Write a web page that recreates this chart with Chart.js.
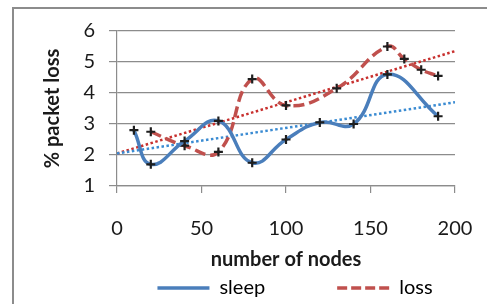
<!DOCTYPE html>
<html>
<head>
<meta charset="utf-8">
<script src="https://cdn.jsdelivr.net/npm/chart.js@4.4.1/dist/chart.umd.min.js"></script>
<style>
  body { margin: 0; background: #fff; }
  #wrap { position: relative; width: 487px; height: 304px; overflow: hidden; background: #fff; }
  #frame { position: absolute; left: 12px; top: 7px; width: 600px; height: 400px;
           border-left: 2px solid #8c8c8c; border-top: 2px solid #8c8c8c; }
  canvas { position: absolute; left: 0; top: 0; }
</style>
</head>
<body>
<div id="wrap">
  <div id="frame"></div>
  <canvas id="grafica" width="487" height="304"></canvas>
</div>
<script>
// valores
const sleepX = [10, 20, 40, 60, 80, 100, 120, 140, 160, 190];
const sleepY = [2.8, 1.7, 2.45, 3.1, 1.75, 2.5, 3.05, 3.0, 4.6, 3.25];
const lossX = [20, 40, 60, 80, 100, 130, 160, 170, 180, 190];
const lossY = [2.75, 2.3, 2.1, 4.45, 3.6, 4.15, 5.5, 5.1, 4.75, 4.55];
// lineas de tendencia (extremos leidos)
const trendX = [0, 200];
const sleepTrendY = [2.05, 3.7];
const lossTrendY = [2.05, 5.35];
const xTicks = [0, 50, 100, 150, 200];
const yTicks = [1, 2, 3, 4, 5, 6];

const azul = '#4A7EBB';
const rojo = '#C0504D';
const fuente = 'Lato, "Open Sans", sans-serif';

function puntos(xs, ys) {
    return xs.map((x, i) => ({ x: x, y: ys[i] }));
}

const marcador = {
    pointStyle: 'cross',
    pointRadius: 4.5,
    pointBorderWidth: 2.2,
    pointBorderColor: '#1e1e1e',
    pointBackgroundColor: '#1e1e1e'
};

// desplaza la leyenda para que quede como en el original
const moverLeyenda = {
    id: 'moverLeyenda',
    afterLayout(chart) {
        if (chart.legend) {
            chart.legend.left += 9;
            chart.legend.right += 9;
        }
    }
};

const ctx = document.getElementById('grafica').getContext('2d');
const chart = new Chart(ctx, {
    type: 'line',
    data: {
        datasets: [
            Object.assign({
                label: 'sleep',
                data: puntos(sleepX, sleepY),
                borderColor: azul,
                borderWidth: 3.5,
                tension: 0.45,
                fill: false
            }, marcador),
            Object.assign({
                label: 'loss',
                data: puntos(lossX, lossY),
                borderColor: rojo,
                borderWidth: 3.5,
                borderDash: [11, 5],
                tension: 0.45,
                fill: false
            }, marcador),
            {
                label: 'tendencia sleep',
                data: puntos(trendX, sleepTrendY),
                borderColor: '#3A8BD2',
                borderWidth: 2.5,
                borderDash: [2.5, 2.5],
                pointRadius: 0,
                tension: 0
            },
            {
                label: 'tendencia loss',
                data: puntos(trendX, lossTrendY),
                borderColor: '#C8302E',
                borderWidth: 2.5,
                borderDash: [2.5, 2.5],
                pointRadius: 0,
                tension: 0
            }
        ]
    },
    plugins: [moverLeyenda],
    options: {
        responsive: false,
        animation: false,
        devicePixelRatio: 1,
        layout: { padding: { left: 0, right: 32, top: 31, bottom: -4 } },
        plugins: {
            tooltip: { enabled: false },
            legend: {
                display: true,
                position: 'bottom',
                fullSize: false,
                labels: {
                    font: { family: fuente, size: 20 },
                    color: '#1a1a1a',
                    usePointStyle: true,
                    pointStyleWidth: 52,
                    boxHeight: 20,
                    padding: 5,
                    generateLabels: function () {
                        return [
                            { text: 'sleep', strokeStyle: azul, fillStyle: azul, lineWidth: 3.5,
                              lineDash: [], pointStyle: 'line', datasetIndex: 0, hidden: false },
                            { text: '', strokeStyle: 'rgba(0,0,0,0)', fillStyle: 'rgba(0,0,0,0)',
                              lineWidth: 0, pointStyle: 'line', hidden: false },
                            { text: 'loss', strokeStyle: rojo, fillStyle: rojo, lineWidth: 3.5,
                              lineDash: [10, 4], pointStyle: 'line', datasetIndex: 1, hidden: false }
                        ];
                    }
                }
            }
        },
        scales: {
            x: {
                type: 'linear',
                min: 0,
                max: 200,
                afterFit: function (scale) {
                    scale.height = 87;
                    scale.paddingLeft = 0;
                    scale.paddingRight = 0;
                },
                afterBuildTicks: function (scale) { scale.ticks = xTicks.map(v => ({ value: v })); },
                ticks: {
                    font: { family: fuente, size: 20 },
                    color: '#1a1a1a',
                    padding: 24,
                    maxRotation: 0
                },
                grid: { drawOnChartArea: false, color: '#8c8c8c', tickLength: 7, lineWidth: 1.2 },
                border: { display: true, color: '#8c8c8c', width: 1.2 },
                title: {
                    display: true,
                    text: 'number of nodes',
                    color: '#1a1a1a',
                    font: { family: fuente, size: 20, weight: 'bold' },
                    padding: { top: 0, bottom: 1 }
                }
            },
            y: {
                min: 1,
                max: 6,
                afterFit: function (scale) { scale.width = 117; },
                afterBuildTicks: function (scale) { scale.ticks = yTicks.map(v => ({ value: v })); },
                ticks: {
                    font: { family: fuente, size: 20 },
                    color: '#1a1a1a',
                    padding: 14
                },
                grid: { color: '#8c8c8c', tickLength: 8, lineWidth: 1.2 },
                border: { display: true, color: '#8c8c8c', width: 1.2 },
                title: {
                    display: true,
                    text: '% packet loss',
                    color: '#1a1a1a',
                    font: { family: fuente, size: 20, weight: 'bold' },
                    padding: { top: 41, bottom: 0 }
                }
            }
        }
    }
});
</script>
</body>
</html>
